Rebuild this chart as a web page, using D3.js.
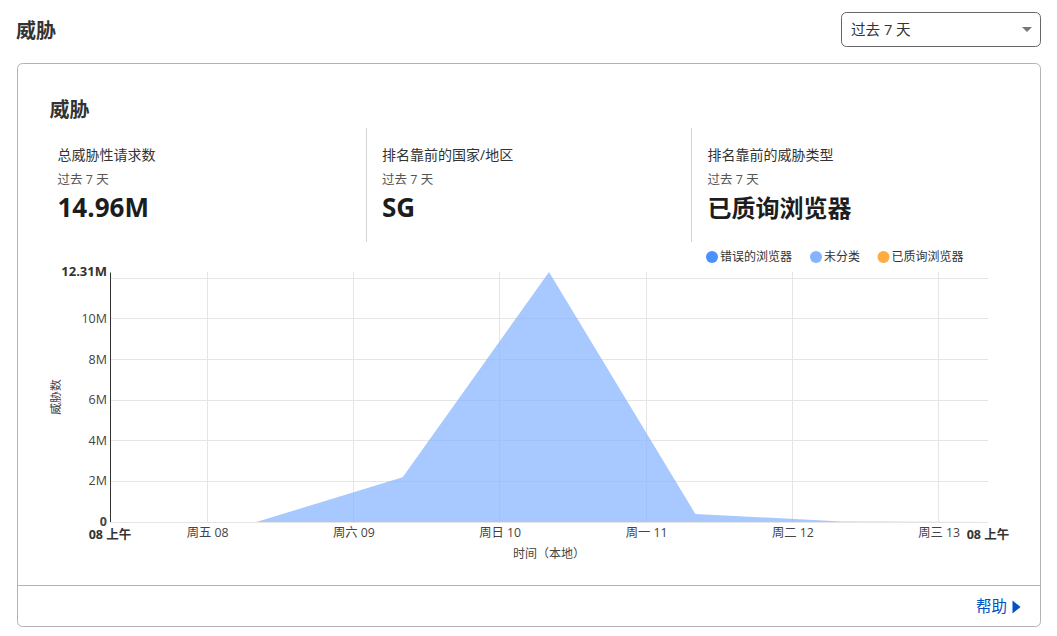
<!DOCTYPE html>
<html lang="zh-CN">
<head>
<meta charset="utf-8">
<script src="https://cdn.jsdelivr.net/npm/d3@7/dist/d3.min.js"></script>
<style>
html,body{margin:0;padding:0;background:#fff;overflow:hidden}
svg{display:block}
text{font-family:"Open Sans","Noto Sans CJK SC",sans-serif;fill:#333}
</style>
</head>
<body>
<svg id="c" width="1057" height="636"></svg>
<script>
const dayLabels = ["周五 08","周六 09","周日 10","周一 11","周二 12","周三 13"];
const tickDays = [8,9,10,11,12,13];
const sampleDays = [7,8,9,10,11,12,13];
const wrongBrowser = [0,0,0,0,0,0,0];
const unclassified = [0,0,2.2,12.31,0.4,0.03,0];
const queriedBrowser = [0,0,0,0,0,0,0];
const seriesNames = ["错误的浏览器","未分类","已质询浏览器"];
const seriesColors = ["#4a90ff","#85b4ff","#ffab40"];
const yTicks = [0,2,4,6,8,10];
const gridTicks = [0,2,4,6,8,10,12];
const yMax = 12.31;
const cards = [
  ["总威胁性请求数","过去 7 天","14.96M",26],
  ["排名靠前的国家/地区","过去 7 天","SG",26],
  ["排名靠前的威胁类型","过去 7 天","已质询浏览器",24]
];

const svg = d3.select("#c");
const M = {l:110,r:988,t:272,b:522};
const x = d3.scaleTime().domain([new Date(2023,6,7,8),new Date(2023,6,13,8)]).range([M.l,M.r]);
const y = d3.scaleLinear().domain([0,yMax]).range([M.b,M.t]);
const tickDates = tickDays.map(d=>new Date(2023,6,d,0));

// page chrome
const T = (px,py,s,size,opt={})=>svg.append("text").attr("x",px).attr("y",py).text(s)
  .attr("font-size",size).attr("font-weight",opt.w||400).attr("text-anchor",opt.a||"start")
  .style("fill",opt.c||"#333");
T(16,38,"威胁",20,{w:700,c:"#333"});
svg.append("rect").attr("x",841.5).attr("y",12.5).attr("width",199).attr("height",34).attr("rx",5)
  .attr("fill","#fff").attr("stroke","#666");
T(851,34.5,"过去 7 天",14.6,{c:"#333"});
svg.append("path").attr("d","M1022 27h10l-5 5z").attr("fill","#777");
svg.append("rect").attr("x",17.5).attr("y",63.5).attr("width",1023).attr("height",563).attr("rx",5)
  .attr("fill","#fff").attr("stroke","#b3b3b3");
svg.append("line").attr("x1",18).attr("x2",1040).attr("y1",585.5).attr("y2",585.5).attr("stroke","#b3b3b3");
T(49.5,117,"威胁",20,{w:700,c:"#333"});
T(976,612,"帮助",15.5,{c:"#0051c3"});
svg.append("path").attr("d","M1012.5 600.5l8 6.5l-8 6.5z").attr("fill","#0051c3");

// stat columns
[57.5,382,707.5].forEach((cx,i)=>{
  T(cx,160,cards[i][0],14,{c:"#333"});
  T(cx,184,cards[i][1],12.5,{c:"#555"});
  T(cx,217,cards[i][2],cards[i][3],{w:700,c:"#1d1d1d"});
});
[366.5,691.5].forEach(lx=>svg.append("line").attr("x1",lx).attr("x2",lx).attr("y1",128).attr("y2",242).attr("stroke","#d4d4d4"));

// legend
const legendX = [712,816,883.5];
seriesNames.forEach((n,i)=>{
  svg.append("circle").attr("cx",legendX[i]).attr("cy",257).attr("r",6).attr("fill",seriesColors[i]);
  T(legendX[i]+8,261,n,12,{c:"#333"});
});

// grid
svg.append("g").selectAll("line").data(gridTicks).join("line")
  .attr("x1",M.l).attr("x2",M.r).attr("y1",d=>Math.floor(y(d))+.5).attr("y2",d=>Math.floor(y(d))+.5)
  .attr("stroke","#e5e5e5");
svg.append("g").selectAll("line").data(tickDates).join("line")
  .attr("x1",d=>Math.round(x(d))-.5).attr("x2",d=>Math.round(x(d))-.5).attr("y1",M.t).attr("y2",M.b)
  .attr("stroke","#e5e5e5");

// stacked area
const rows = sampleDays.map((d,i)=>({date:new Date(2023,6,d,8),"错误的浏览器":wrongBrowser[i],"未分类":unclassified[i],"已质询浏览器":queriedBrowser[i]}));
const stacked = d3.stack().keys(seriesNames)(rows);
const area = d3.area().x(d=>x(d.data.date)).y0(d=>y(d[0])).y1(d=>y(d[1]));
svg.append("g").selectAll("path").data(stacked).join("path")
  .attr("d",area).attr("fill",(d,i)=>seriesColors[i]).attr("fill-opacity",.72);

// axes
const yAxis = d3.axisLeft(y).tickValues(yTicks).tickSize(0).tickPadding(3)
  .tickFormat(d=>d===0?"0":d+"M");
const gy = svg.append("g").attr("transform",`translate(${M.l},0)`).call(yAxis);
gy.select(".domain").attr("stroke","#333").attr("stroke-width",1);
gy.selectAll("text").attr("font-size",12.5).attr("dy","0.28em").style("font-family",'"Open Sans","Noto Sans CJK SC",sans-serif')
  .style("fill","#444").attr("font-weight",d=>d===0?700:400);
const ext = svg.append("g").attr("transform",`translate(${M.l},0)`).call(d3.axisLeft(y).tickValues([yMax]).tickSize(0).tickPadding(3).tickFormat(d=>d+"M"));
ext.select(".domain").remove();
ext.selectAll("text").attr("font-size",13).attr("font-weight",700).attr("dy","0.28em").style("font-family",'"Open Sans","Noto Sans CJK SC",sans-serif').style("fill","#333");

const xAxis = d3.axisBottom(x).tickValues(tickDates).tickSize(0).tickPadding(6.5)
  .tickFormat((d,i)=>dayLabels[i]);
const gx = svg.append("g").attr("transform",`translate(-0.5,${M.b})`).call(xAxis);
gx.select(".domain").attr("stroke","#e5e5e5");
gx.selectAll("text").attr("font-size",12.3).style("font-family",'"Open Sans","Noto Sans CJK SC",sans-serif').style("fill","#444");

T(110,538.5,"08 上午",12.5,{w:700,a:"middle"});
T(988,538.5,"08 上午",12.5,{w:700,a:"middle"});
T(549,558,"时间（本地）",12,{a:"middle",c:"#444"});
svg.append("text").attr("transform","translate(60,397) rotate(-90)").attr("text-anchor","middle")
  .attr("font-size",11.8).style("fill","#444").text("威胁数");
</script>
</body>
</html>
